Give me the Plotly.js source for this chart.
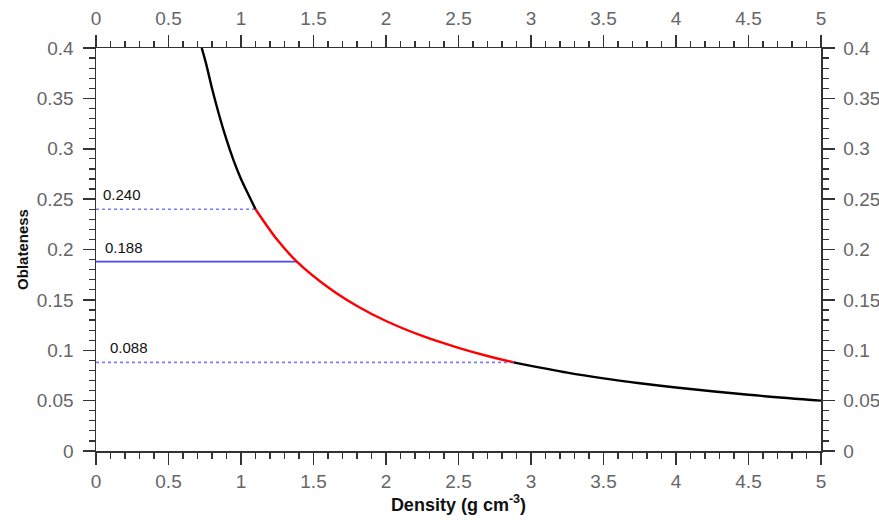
<!DOCTYPE html>
<html>
<head>
<meta charset="utf-8">
<script src="https://cdn.plot.ly/plotly-3.0.1.min.js"></script>
<style>html,body{margin:0;padding:0;background:#fff;}#chart{width:879px;height:520px;}</style>
</head>
<body>
<div id="chart"></div>
<script>
// Curve segments (density in g cm^-3, oblateness)
const densityUpper = [0.729, 0.76, 0.80, 0.85, 0.90, 0.95, 1.00, 1.05, 1.10];
const oblateUpper  = [0.400, 0.384, 0.360, 0.333, 0.309, 0.288, 0.270, 0.2548, 0.240];

const densityMid = [1.10, 1.25, 1.385, 1.60, 1.80, 2.00, 2.25, 2.50, 2.70, 2.88];
const oblateMid  = [0.240, 0.2096, 0.188, 0.1625, 0.1439, 0.129, 0.1142, 0.1024, 0.0943, 0.088];

const densityLower = [2.88, 3.25, 3.5, 3.75, 4.0, 4.5, 5.0];
const oblateLower  = [0.088, 0.0778, 0.0721, 0.0673, 0.063, 0.0558, 0.050];

// Reference levels
const levelValues  = [0.240, 0.188, 0.088];
const levelDensity = [1.10, 1.385, 2.88];
const levelLabels  = ["0.240", "0.188", "0.088"];
const levelLabelX  = [0.035, 0.045, 0.08];
const levelDash    = ["dot", "solid", "dot"];
const levelColor   = ["#7b7bff", "#4b4bea", "#7b7bff"];

const FAMILY = "Liberation Sans";

const traces = [];
levelValues.forEach((v, i) => {
  traces.push({
    x: [0, levelDensity[i]], y: [v, v], type: "scatter", mode: "lines",
    line: {color: levelColor[i], width: 1.6, dash: levelDash[i]},
    hoverinfo: "skip", showlegend: false
  });
});
traces.push({x: densityUpper, y: oblateUpper, type: "scatter", mode: "lines",
  line: {color: "#000000", width: 2.4, shape: "spline", smoothing: 0.8}, showlegend: false});
traces.push({x: densityMid, y: oblateMid, type: "scatter", mode: "lines",
  line: {color: "#ff0000", width: 2.4, shape: "spline", smoothing: 0.8}, showlegend: false});
traces.push({x: densityLower, y: oblateLower, type: "scatter", mode: "lines",
  xaxis: "x2", yaxis: "y2",
  line: {color: "#000000", width: 2.4, shape: "spline", smoothing: 0.8}, showlegend: false});

function makeAxis(isX, extra) {
  const ax = {
    showgrid: false, zeroline: false, showline: true, linecolor: "#333", linewidth: 1.5,
    ticks: "outside", ticklen: 12, tickwidth: 1.5, tickcolor: "#333",
    tickfont: {family: FAMILY, size: 19, color: "#666666"},
    ticklabelstandoff: isX ? 1 : 5,
    fixedrange: true,
    range: isX ? [0, 5] : [0, 0.4],
    dtick: isX ? 0.5 : 0.05, tick0: 0,
    minor: {dtick: isX ? 0.1 : 0.01, ticks: "outside", ticklen: 6, tickwidth: 1.2,
            tickcolor: "#333", showgrid: false}
  };
  return Object.assign(ax, extra);
}

const annotations = levelValues.map((v, i) => ({
  x: levelLabelX[i], y: v, xref: "x", yref: "y", text: levelLabels[i],
  showarrow: false, xanchor: "left", yanchor: "bottom", yshift: 4,
  font: {family: FAMILY, size: 15, color: "#111"}
}));

const layout = {
  width: 879, height: 520,
  margin: {l: 96, r: 58, t: 48, b: 69},
  paper_bgcolor: "#fff", plot_bgcolor: "#fff",
  font: {family: FAMILY, size: 16, color: "#666666"},
  showlegend: false,
  xaxis: makeAxis(true, {
    side: "bottom",
    title: {text: "<b>Density (g cm<sup>-3</sup>)</b>", standoff: 4,
      font: {family: FAMILY, size: 18, color: "#111"}}
  }),
  yaxis: makeAxis(false, {
    side: "left",
    title: {text: "<b>Oblateness</b>", standoff: 4,
      font: {family: FAMILY, size: 15, color: "#111"}}
  }),
  xaxis2: makeAxis(true, {side: "top", overlaying: "x", anchor: "y2", ticklabelstandoff: 2}),
  yaxis2: makeAxis(false, {side: "right", overlaying: "y", anchor: "x2"}),
  annotations: annotations
};

Plotly.newPlot("chart", traces, layout, {displayModeBar: false, staticPlot: true});
</script>
</body>
</html>
